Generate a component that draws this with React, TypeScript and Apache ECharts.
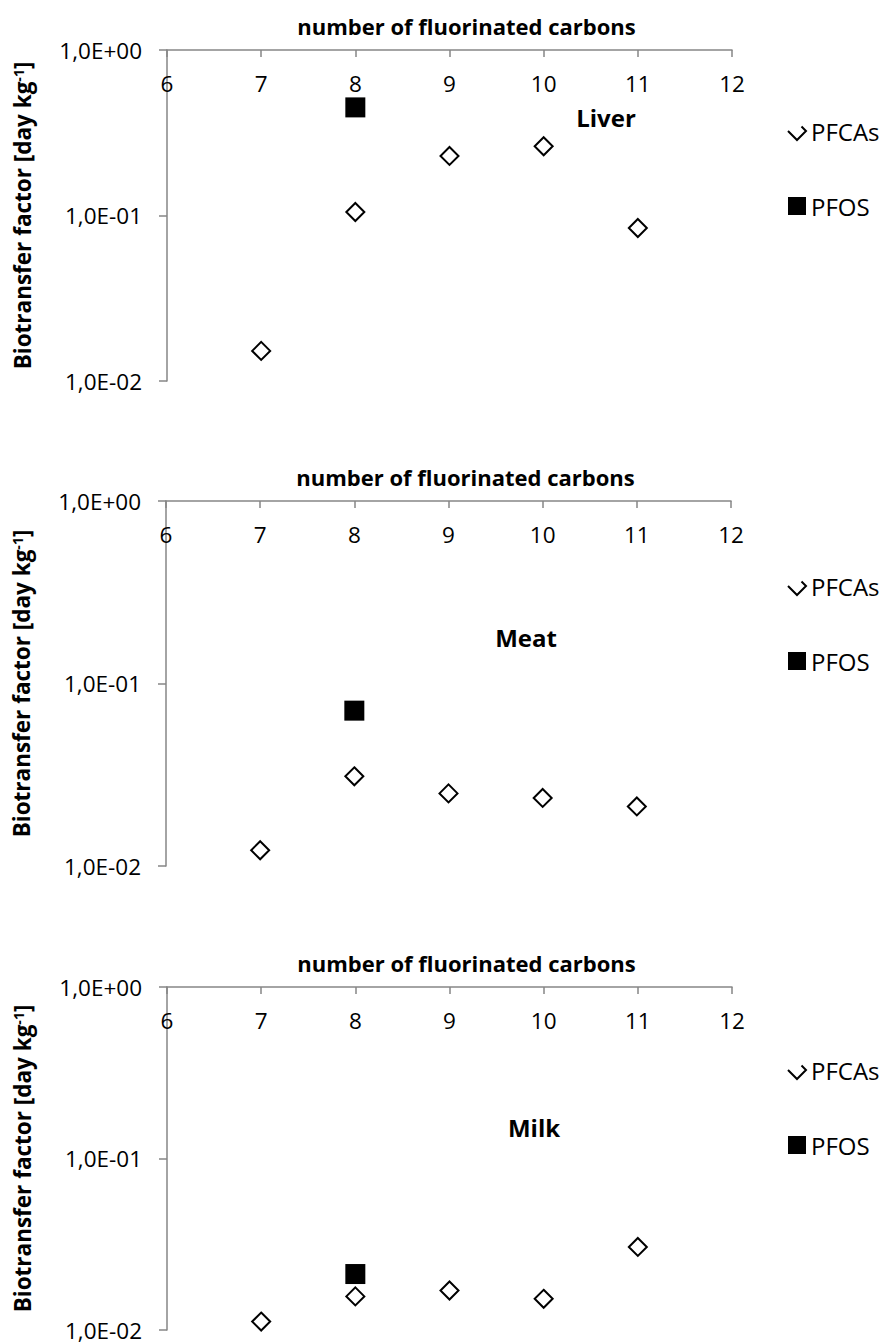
import React, { useEffect, useRef } from "react";
import * as echarts from "echarts";

const carbons = [7, 8, 9, 10, 11];
const pfosCarbon = [8];
const liverPFCAs = [0.0152, 0.105, 0.229, 0.262, 0.084];
const liverPFOS = [0.45];
const meatPFCAs = [0.0122, 0.031, 0.025, 0.0236, 0.0212];
const meatPFOS = [0.071];
const milkPFCAs = [0.0112, 0.0157, 0.017, 0.0152, 0.0305];
const milkPFOS = [0.0212];
const panelNames = ["Liver", "Meat", "Milk"];
const xTitle = "number of fluorinated carbons";
const seriesNames = ["PFCAs", "PFOS"];

const FONT = "Open Sans";
const AXIS = "#868686";

const grids = [
  { left: 167, top: 50, width: 565, height: 331 },
  { left: 166, top: 501, width: 565, height: 365 },
  { left: 167, top: 987, width: 565, height: 343 },
];
const labelPos = [
  [606, 117],
  [526, 637],
  [534, 1127],
];
const legendTops = [114, 569, 1053];

const fmtLog = (v: number) => {
  const e = Math.round(Math.log10(v));
  const s = Math.abs(e).toString().padStart(2, "0");
  return `1,0E${e >= 0 ? "+" : "-"}${s}`;
};

export default function App() {
  const ref = useRef<HTMLDivElement>(null);
  useEffect(() => {
    if (!ref.current) return;
    const chart = echarts.init(ref.current, null, { renderer: "svg" });
    const pfcas = [liverPFCAs, meatPFCAs, milkPFCAs];
    const pfos = [liverPFOS, meatPFOS, milkPFOS];
    const diamondIcon = "path://M10,0 M0,10 L10,20 L20,10 L15,5";

    const xAxes = grids.map((_, i) => ({
      type: "value",
      gridIndex: i,
      position: "top",
      min: 6,
      max: 12,
      interval: 1,
      name: xTitle,
      nameLocation: "middle",
      nameGap: 13,
      nameTextStyle: {
        fontFamily: FONT,
        fontWeight: "bold",
        fontSize: 22,
        color: "#000",
        padding: [0, 0, 0, 34],
      },
      axisLine: { show: true, onZero: false, lineStyle: { color: AXIS, width: 1.5 } },
      axisTick: { show: true, inside: true, length: 7, lineStyle: { color: AXIS, width: 1.5 } },
      axisLabel: { inside: true, margin: 22, fontFamily: FONT, fontSize: 22.5, color: "#000" },
      splitLine: { show: false },
    }));
    const yAxes = grids.map((_, i) => ({
      type: "log",
      logBase: 10,
      gridIndex: i,
      min: 0.01,
      max: 1,
      name: "{b|Biotransfer factor [day kg}{s|-1}{b|]}",
      nameLocation: "middle",
      nameGap: 133,
      nameRotate: 90,
      nameTextStyle: {
        rich: {
          b: { fontFamily: FONT, fontWeight: "bold", fontSize: 22.5, color: "#000", verticalAlign: "bottom" },
          s: { fontFamily: FONT, fontWeight: "bold", fontSize: 14, color: "#000", verticalAlign: "top" },
        },
      },
      axisLine: { show: true, lineStyle: { color: AXIS, width: 1.5 } },
      axisTick: { show: true, length: 8, lineStyle: { color: AXIS, width: 1.5 } },
      axisLabel: { margin: 25, fontFamily: FONT, fontSize: 22.5, color: "#000", formatter: fmtLog },
      splitLine: { show: false },
      minorTick: { show: false },
    }));

    const series: any[] = [];
    grids.forEach((_, i) => {
      series.push({
        type: "scatter",
        name: seriesNames[0],
        xAxisIndex: i,
        yAxisIndex: i,
        symbol: "diamond",
        symbolSize: 18,
        itemStyle: { color: "#fff", borderColor: "#000", borderWidth: 2, opacity: 1 },
        data: carbons.map((c, k) => [c, pfcas[i][k]]),
      });
      series.push({
        type: "scatter",
        name: seriesNames[1],
        xAxisIndex: i,
        yAxisIndex: i,
        symbol: "rect",
        symbolSize: 20,
        itemStyle: { color: "#000", opacity: 1 },
        data: pfosCarbon.map((c, k) => [c, pfos[i][k]]),
      });
    });

    const legends = legendTops.map((t) => ({
      orient: "vertical",
      left: 782,
      top: t,
      itemWidth: 18,
      itemHeight: 18,
      itemGap: 51,
      selectedMode: false,
      textStyle: { fontFamily: FONT, fontSize: 24, color: "#000" },
      data: [
        { name: seriesNames[0], icon: diamondIcon, itemStyle: { color: "#fff", borderColor: "#000", borderWidth: 2, opacity: 1 } },
        { name: seriesNames[1], icon: "rect", itemStyle: { color: "#000", opacity: 1 } },
      ],
    }));

    const graphic = panelNames.map((n, i) => ({
      type: "text",
      x: labelPos[i][0],
      y: labelPos[i][1],
      style: {
        text: n,
        fontFamily: FONT,
        fontWeight: "bold",
        fontSize: 24,
        fill: "#000",
        align: "center",
        verticalAlign: "middle",
      },
    }));

    chart.setOption({
      animation: false,
      backgroundColor: "#fff",
      grid: grids,
      xAxis: xAxes,
      yAxis: yAxes,
      legend: legends,
      graphic,
      series,
    } as any);
    return () => chart.dispose();
  }, []);
  return (
    <div
      ref={ref}
      style={{ position: "fixed", left: 0, top: 0, width: 891, height: 1344, background: "#fff" }}
    />
  );
}
